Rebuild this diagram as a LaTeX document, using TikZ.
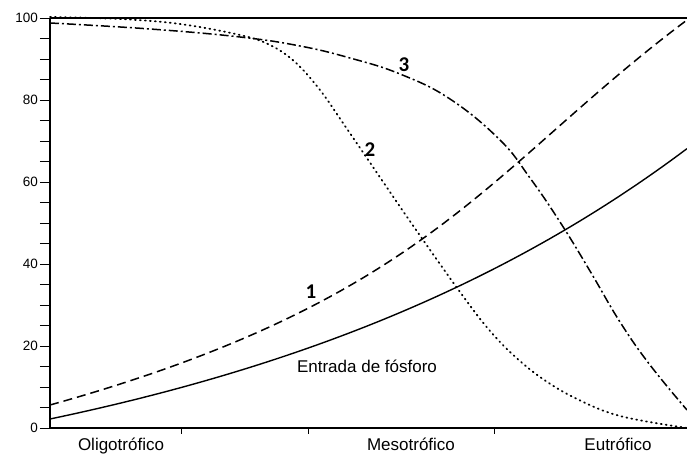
\documentclass[tikz,border=0pt]{standalone}
\usepackage{fontspec}
\setmainfont{Liberation Sans}
\newfontfamily\numfont{Carlito}
\begin{document}
\begin{tikzpicture}[x=1pt,y=1pt,
  curve/.style={line width=1.4pt},
  dashcurve/.style={line width=1.5pt, dash pattern=on 9pt off 5pt},
  dotcurve/.style={line width=1.8pt, line cap=round, dash pattern=on 0.9pt off 4.1pt},
  dashdotcurve/.style={line width=1.5pt, dash pattern=on 9pt off 3pt on 2pt off 3pt},
  axislabel/.style={font=\fontsize{17}{20}\selectfont},
  classlabel/.style={font=\fontsize{17}{20}\selectfont, anchor=base},
  ticklabel/.style={font=\fontsize{13.5}{16}\selectfont, anchor=east, inner sep=1pt},
  curvenum/.style={font=\numfont\bfseries\fontsize{21}{24}\selectfont}]
\useasboundingbox (-50,-37) rectangle (637,428);

% curve 2 (dotted)
\draw [dotcurve] plot [smooth, tension=.6] coordinates {(0,411) (70,409) (130,404) (190,393) (220,383) (245,366) (270,338) (295,302) (325,258) (355,214) (385,171) (410,136) (435,103) (460,76) (490,51) (525,30) (570,12) (637,0)} ;
% curve 3 (dash-dot)
\draw [dashdotcurve] plot [smooth, tension=.7] coordinates {(0,405) (100,399) (190,391) (250,382) (300,370) (350,354) (400,329) (450,288) (480,250) (510,206) (540,157) (570,106) (600,63) (637,18)} ;
% curve 1 (dashed)
\draw [dashcurve] (0,23) .. controls (380,129) and (437,258) .. (637,408) ;
% entrada de fosforo (solid)
\draw [curve] plot [domain=0:637, samples=80] (\x, {105*(exp(\x/500)-1)+9}) ;

% axes
\draw [line width=1.6pt] (0,410) -- (0,0) -- (637,0) ;
\draw [line width=1.8pt] (0,410) -- (637,410) ;
\foreach \v in {0,5,...,100}
  \draw [line width=.9pt] (-10,\v*4.1) -- (0,\v*4.1) ;
\foreach \v in {0,20,...,100}
  \node [ticklabel] (y\v) at (-11,\v*4.1) {\v} ;
\foreach \x in {131,258,444}
  \draw [line width=.9pt] (\x,0) -- (\x,-6) ;

\node [classlabel] (oligo) at (71,-23) {Oligotrófico} ;
\node [classlabel] (meso) at (361,-23) {Mesotrófico} ;
\node [classlabel] (eutro) at (568,-23) {Eutrófico} ;
\node [axislabel] (fosforo) at (317,62) {Entrada de fósforo} ;

\node [curvenum] (n1) at (261,136) {1} ;
\node [curvenum] (n2) at (320,278) {2} ;
\node [curvenum] (n3) at (354,363) {3} ;

\end{tikzpicture}
\end{document}
